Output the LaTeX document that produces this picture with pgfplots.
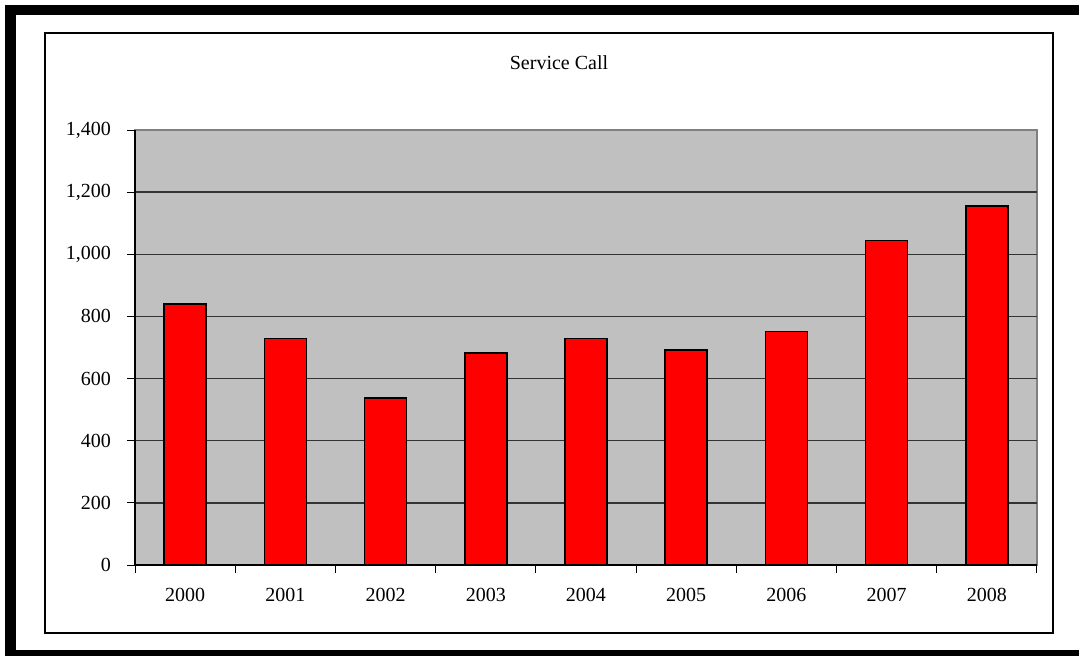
\documentclass[border=0pt]{standalone}
\usepackage{pgfplots}
\pgfplotsset{compat=1.18}
\usepackage{fontspec}
\setmainfont{Liberation Serif}
\definecolor{plotbg}{HTML}{C0C0C0}
\definecolor{gridc}{HTML}{333333}
\definecolor{framegray}{HTML}{808080}
\begin{document}
\begin{tikzpicture}[x=0.5pt,y=0.5pt]
\useasboundingbox (0,0) rectangle (1079,655);
\begin{scope}
\clip (0,0) rectangle (1079,655);
\fill[black] (5,-20) rectangle (1200,650);
\fill[white] (16,5) rectangle (1200,640);
\end{scope}
\draw[line width=1pt] (45,22) rectangle (1053,622);
\node[font=\fontsize{10}{12}\selectfont] at (559,592) {Service Call};
\begin{axis}[
  at={(67.5pt,45pt)}, anchor=south west,
  scale only axis, width=451pt, height=217.5pt,
  xmin=-0.5, xmax=8.5, ymin=0, ymax=1400,
  axis lines=left, axis line style={-, black, line width=0.6pt},
  axis background/.style={fill=plotbg, draw=framegray, line width=0.6pt},
  ybar, bar width=21pt, bar shift=0pt,
  xtick={-0.5,0.5,...,8.5}, xticklabels={},
  extra x ticks={0,1,2,3,4,5,6,7,8},
  extra x tick labels={2000,2001,2002,2003,2004,2005,2006,2007,2008},
  extra x tick style={major tick length=0pt, xticklabel style={yshift=-8pt}},
  ytick={0,200,...,1200},
  extra y ticks={1400}, extra y tick style={grid=none},
  tick align=outside, major tick length=4pt,
  tick style={black, line width=0.5pt},
  ymajorgrids, grid style={gridc, line width=0.65pt},
  /pgf/number format/assume math mode=true,
  /pgf/number format/1000 sep={,},
  yticklabel style={xshift=-4.5pt},
  ticklabel style={font=\fontsize{10}{12}\selectfont},
  clip=false,
]
\addplot[fill=red, draw=black, line width=0.8pt] coordinates {
  (0,840) (1,729) (2,538) (3,682) (4,729) (5,692) (6,751) (7,1044) (8,1155)
};
\end{axis}
\end{tikzpicture}
\end{document}
